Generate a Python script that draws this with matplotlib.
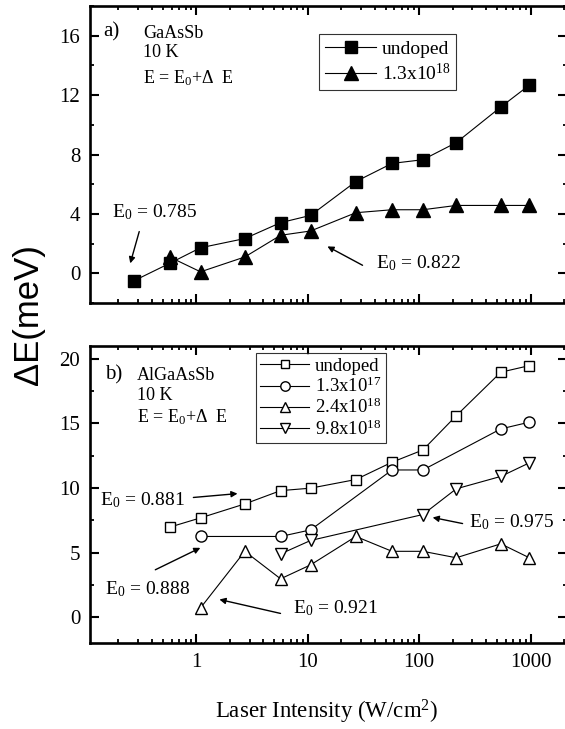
import matplotlib
matplotlib.use("Agg")
import matplotlib.pyplot as plt
from matplotlib.ticker import MultipleLocator, LogLocator, NullFormatter, FixedLocator, FixedFormatter

plt.rcParams['font.family'] = ['Liberation Serif', 'DejaVu Serif']
plt.rcParams['mathtext.fontset'] = 'custom'
plt.rcParams['mathtext.rm'] = 'Liberation Serif'
plt.rcParams['mathtext.it'] = 'Liberation Serif:italic'

# panel a) GaAsSb
a_x = [0.276, 0.575, 1.09, 2.72, 5.7, 10.6, 27, 57, 108, 215, 540, 973]
a_undoped = [-0.5, 0.67, 1.72, 2.34, 3.41, 3.9, 6.18, 7.4, 7.65, 8.8, 11.2, 12.67]
a_dop_x = [0.575, 1.09, 2.72, 5.7, 10.6, 27, 57, 108, 215, 540, 973]
a_dop = [1.1, 0.1, 1.1, 2.56, 2.85, 4.08, 4.28, 4.28, 4.57, 4.57, 4.57]

# panel b) AlGaAsSb
b_und_x = [0.575, 1.09, 2.72, 5.7, 10.6, 27, 57, 108, 215, 540, 973]
b_und = [6.97, 7.69, 8.77, 9.8, 9.99, 10.66, 12.0, 12.95, 15.6, 18.97, 19.48]
b_c_x = [1.09, 5.7, 10.6, 57, 108, 540, 973]
b_c = [6.25, 6.25, 6.76, 11.4, 11.4, 14.58, 15.1]
b_t_x = [1.09, 2.72, 5.7, 10.6, 27, 57, 108, 215, 540, 973]
b_t = [0.72, 5.1, 2.97, 4.05, 6.25, 5.1, 5.1, 4.6, 5.68, 4.6]
b_d_x = [5.7, 10.6, 108, 215, 540, 973]
b_d = [4.9, 5.94, 7.95, 9.94, 10.9, 11.95]

W, H = 565, 729
fig = plt.figure(figsize=(W / 100, H / 100), dpi=100)
left, right = 90 / W, 567 / W
ax1 = fig.add_axes([left, 1 - 303 / H, right - left, 297 / H])
ax2 = fig.add_axes([left, 1 - 643 / H, right - left, 297 / H])


def style(ax):
    ax.set_xscale('log')
    ax.set_xlim(0.111, 2120)
    for s in ax.spines.values():
        s.set_linewidth(1.9)
    ax.tick_params(which='both', direction='in', top=True, right=True, labelsize=15)
    ax.tick_params(which='major', length=6.5, width=1.5, pad=7)
    ax.tick_params(which='minor', length=3, width=1.3)
    ax.xaxis.set_major_locator(FixedLocator([1, 10, 100, 1000]))
    ax.xaxis.set_minor_locator(LogLocator(base=10, subs=range(2, 10), numticks=20))
    ax.xaxis.set_minor_formatter(NullFormatter())


style(ax1)
style(ax2)

ln = dict(color='black', lw=0.8)
ax1.plot(a_x, a_undoped, marker='s', ms=8.5, mfc='black', mec='black', label='undoped', **ln)
ax1.plot(a_dop_x, a_dop, marker='^', ms=10, mfc='black', mec='black', label='1.3x10$^{18}$', **ln)
ax1.set_ylim(-2, 18)
ax1.yaxis.set_major_locator(MultipleLocator(4))
ax1.yaxis.set_minor_locator(MultipleLocator(2))
ax1.xaxis.set_major_formatter(NullFormatter())
ax1.legend(loc='upper left', bbox_to_anchor=(0.481, 0.905), frameon=True, fancybox=False,
           edgecolor='black', fontsize=14, handlelength=2.6, handletextpad=0.3,
           borderpad=0.3, labelspacing=0.25, borderaxespad=0).get_frame().set_linewidth(0.8)

ax1.text(0.027, 0.912, 'a)', transform=ax1.transAxes, fontsize=15, va='center')
ax1.text(0.111, 0.909, 'GaAsSb', transform=ax1.transAxes, fontsize=13, va='center')
ax1.text(0.111, 0.842, '10 K', transform=ax1.transAxes, fontsize=13, va='center')
ax1.text(0.111, 0.758, 'E = E$_0$+Δ  E', transform=ax1.transAxes, fontsize=13, va='center')

arr = dict(arrowstyle='-|>', color='black', lw=1.0, mutation_scale=9, shrinkA=0, shrinkB=0)
ax1.text(0.176, 4.15, 'E$_0$ = 0.785', fontsize=14, va='center')
ax1.annotate('', xy=(0.255, 0.67), xytext=(0.307, 2.81), arrowprops=dict(arr))
ax1.text(40.6, 0.67, 'E$_0$ = 0.822', fontsize=14, va='center')
ax1.annotate('', xy=(15.0, 1.81), xytext=(31, 0.54), arrowprops=dict(arr))

ms_open = dict(mfc='white', mec='black', mew=1.0)
ax2.plot(b_und_x, b_und, marker='s', ms=7, label='undoped', **ms_open, **ln)
ax2.plot(b_c_x, b_c, marker='o', ms=8, label='1.3x10$^{17}$', **ms_open, **ln)
ax2.plot(b_t_x, b_t, marker='^', ms=9, label='2.4x10$^{18}$', **ms_open, **ln)
ax2.plot(b_d_x, b_d, marker='v', ms=9, label='9.8x10$^{18}$', **ms_open, **ln)
ax2.set_ylim(-2, 21)
ax2.yaxis.set_major_locator(MultipleLocator(5))
ax2.yaxis.set_minor_locator(MultipleLocator(2.5))
ax2.xaxis.set_major_formatter(FixedFormatter(['1', '10', '100', '1000']))
ax2.legend(loc='upper left', bbox_to_anchor=(0.347, 0.976), frameon=True, fancybox=False,
           edgecolor='black', fontsize=13.5, handlelength=2.6, handletextpad=0.3,
           borderpad=0.25, labelspacing=0.1, borderaxespad=0, markerscale=0.85).get_frame().set_linewidth(0.8)

ax2.text(0.032, 0.902, 'b)', transform=ax2.transAxes, fontsize=15, va='center')
ax2.text(0.099, 0.902, 'AlGaAsSb', transform=ax2.transAxes, fontsize=13, va='center')
ax2.text(0.099, 0.835, '10 K', transform=ax2.transAxes, fontsize=13, va='center')
ax2.text(0.099, 0.761, 'E = E$_0$+Δ  E', transform=ax2.transAxes, fontsize=13, va='center')

ax2.text(0.137, 9.03, 'E$_0$ = 0.881', fontsize=14, va='center')
ax2.annotate('', xy=(2.34, 9.57), xytext=(0.94, 9.27), arrowprops=dict(arr))
ax2.text(0.152, 2.2, 'E$_0$ = 0.888', fontsize=14, va='center')
ax2.annotate('', xy=(1.086, 5.37), xytext=(0.428, 3.67), arrowprops=dict(arr))
ax2.text(7.44, 0.67, 'E$_0$ = 0.921', fontsize=14, va='center')
ax2.annotate('', xy=(1.61, 1.37), xytext=(5.69, 0.29), arrowprops=dict(arr))
ax2.text(278, 7.33, 'E$_0$ = 0.975', fontsize=14, va='center')
ax2.annotate('', xy=(132, 7.72), xytext=(245, 7.25), arrowprops=dict(arr))

fig.text(28 / W, 1 - 315 / H, 'ΔE(meV)', rotation=90, ha='center', va='center',
         fontsize=25, family=['Liberation Sans', 'DejaVu Sans'])
fig.text(327 / W, 1 - 712 / H, 'Laser Intensity (W/cm$^2$)', ha='center', va='center', fontsize=16.5)

fig.savefig('out.png', dpi=100)
